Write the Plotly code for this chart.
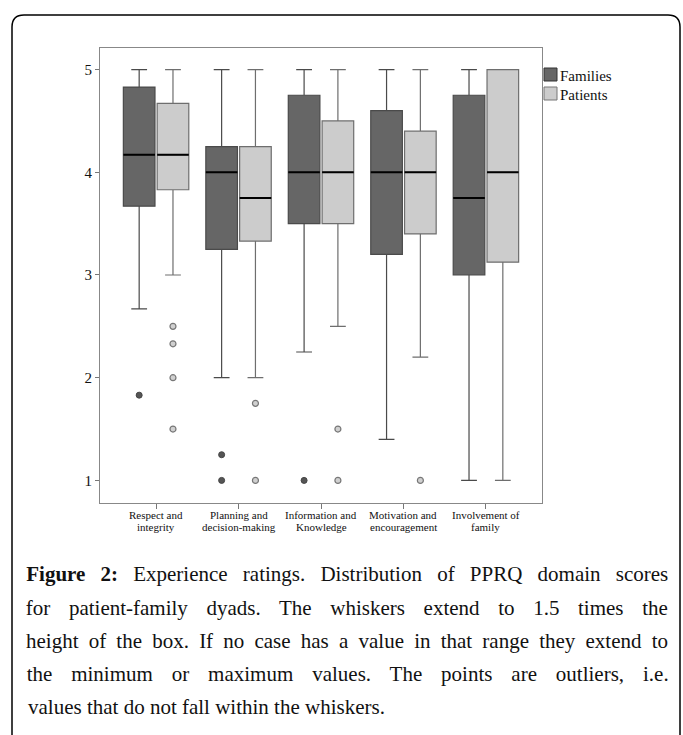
import json
import re
import plotly.graph_objects as go

# ---------------- data ----------------
cat_line1 = ["Respect and", "Planning and", "Information and", "Motivation and", "Involvement of"]
cat_line2 = ["integrity", "decision-making", "Knowledge", "encouragement", "family"]
cat_pos = [0, 1, 2, 3, 4]

fam_low = [2.67, 2.0, 2.25, 1.4, 1.0]
fam_q1 = [3.67, 3.25, 3.5, 3.2, 3.0]
fam_median = [4.17, 4.0, 4.0, 4.0, 3.75]
fam_q3 = [4.83, 4.25, 4.75, 4.6, 4.75]
fam_high = [5.0, 5.0, 5.0, 5.0, 5.0]

pat_low = [3.0, 2.0, 2.5, 2.2, 1.0]
pat_q1 = [3.83, 3.33, 3.5, 3.4, 3.125]
pat_median = [4.17, 3.75, 4.0, 4.0, 4.0]
pat_q3 = [4.67, 4.25, 4.5, 4.4, 5.0]
pat_high = [5.0, 5.0, 5.0, 5.0, 5.0]

fam_out_cat = [0, 1, 1, 2]
fam_out_val = [1.83, 1.25, 1.0, 1.0]
pat_out_cat = [0, 0, 0, 0, 1, 1, 2, 2, 3]
pat_out_val = [2.5, 2.33, 2.0, 1.5, 1.75, 1.0, 1.5, 1.0, 1.0]

y_ticks = [1, 2, 3, 4, 5]
series_names = ["Families", "Patients"]

caption_lines = [
    "<b>Figure 2:</b> Experience ratings. Distribution of PPRQ domain scores",
    "for patient-family dyads. The whiskers extend to 1.5 times the",
    "height of the box. If no case has a value in that range they extend to",
    "the minimum or maximum values. The points are outliers, i.e.",
    "values that do not fall within the whiskers.",
]

# ---------------- style ----------------
FONT = "Liberation Serif"
W, H = 683, 735
PL, PR, PT, PB = 100, 542, 48, 503
BOXGAP = 0.18
BOXGROUPGAP = 0.065
OFFSET = (1 - BOXGAP) / 4
FAM_FILL, PAT_FILL = "#666666", "#cccccc"
FAM_LINE, PAT_LINE = "#4a4a4a", "#6e6e6e"
CAP_LEFT, CAP_RIGHT = 26, 668


def px_x(px):
    return (px - PL) / (PR - PL)


def px_y(py):
    return (PB - py) / (PB - PT)


fig = go.Figure()

fig.add_trace(go.Box(
    name=series_names[0], x=cat_pos, q1=fam_q1, median=fam_median, q3=fam_q3,
    lowerfence=fam_low, upperfence=fam_high, offsetgroup="F",
    fillcolor=FAM_FILL, line=dict(color=FAM_LINE, width=1.2),
    whiskerwidth=0.5, boxpoints=False, showlegend=False))
fig.add_trace(go.Box(
    name=series_names[1], x=cat_pos, q1=pat_q1, median=pat_median, q3=pat_q3,
    lowerfence=pat_low, upperfence=pat_high, offsetgroup="P",
    fillcolor=PAT_FILL, line=dict(color=PAT_LINE, width=1.2),
    whiskerwidth=0.5, boxpoints=False, showlegend=False))
# black median lines
for med, grp in [(fam_median, "F"), (pat_median, "P")]:
    fig.add_trace(go.Box(
        x=cat_pos, q1=med, median=med, q3=med, lowerfence=med, upperfence=med,
        offsetgroup=grp, fillcolor="rgba(0,0,0,0)", line=dict(color="#000000", width=2),
        whiskerwidth=0, boxpoints=False, showlegend=False, hoverinfo="skip"))

# outliers
fig.add_trace(go.Scatter(
    x=[c - OFFSET for c in fam_out_cat], y=fam_out_val, mode="markers",
    marker=dict(size=6, color="#555555", line=dict(color="#444444", width=1)),
    showlegend=False))
fig.add_trace(go.Scatter(
    x=[c + OFFSET for c in pat_out_cat], y=pat_out_val, mode="markers",
    marker=dict(size=6, color="#d0d0d0", line=dict(color="#777777", width=1.2)),
    showlegend=False))

shapes = []
annotations = []

# category labels (two tight lines)
for i, (l1, l2) in enumerate(zip(cat_line1, cat_line2)):
    annotations.append(dict(x=cat_pos[i], xref="x", y=px_y(515), yref="paper", text=l1,
                            showarrow=False, xanchor="center", yanchor="middle",
                            font=dict(family=FONT, size=11, color="#111")))
    annotations.append(dict(x=cat_pos[i], xref="x", y=px_y(527), yref="paper", text=l2,
                            showarrow=False, xanchor="center", yanchor="middle",
                            font=dict(family=FONT, size=11, color="#111")))

# custom legend
leg = [(series_names[0], FAM_FILL, "#333333", 68, 75.5), (series_names[1], PAT_FILL, "#777777", 87, 95)]
for name, fill, lc, top, ty in leg:
    shapes.append(dict(type="rect", xref="paper", yref="paper",
                       x0=px_x(544), x1=px_x(557), y0=px_y(top), y1=px_y(top + 13),
                       fillcolor=fill, line=dict(color=lc, width=1)))
    annotations.append(dict(x=px_x(558), xref="paper", y=px_y(ty), yref="paper", text=name,
                            showarrow=False, xanchor="left", yanchor="middle",
                            font=dict(family=FONT, size=15, color="#111")))

# caption (first lines justified via word spacing, last line left aligned)
cap_y = [574, 608, 641, 674, 707]
for k, (line, cy) in enumerate(zip(caption_lines, cap_y)):
    last = k == len(caption_lines) - 1
    annotations.append(dict(
        x=px_x(CAP_LEFT) if last else px_x((CAP_LEFT + CAP_RIGHT) / 2),
        xref="paper", y=px_y(cy), yref="paper", text=line,
        showarrow=False, xanchor="left" if last else "center", yanchor="middle",
        font=dict(family=FONT, size=21, color="#111")))

# outer rounded frame
x0, x1 = px_x(12), px_x(680)
yt, yb = px_y(15), px_y(745)
rx, ry = 12 / (PR - PL), 12 / (PB - PT)
path = (f"M {x0},{yb} L {x0},{yt - ry} Q {x0},{yt} {x0 + rx},{yt} "
        f"L {x1 - rx},{yt} Q {x1},{yt} {x1},{yt - ry} L {x1},{yb}")
shapes.append(dict(type="path", xref="paper", yref="paper", path=path,
                   line=dict(color="#000000", width=1.5)))

fig.update_layout(
    width=W, height=H,
    margin=dict(l=PL, r=W - PR, t=PT, b=H - PB, pad=0),
    paper_bgcolor="white", plot_bgcolor="white",
    boxmode="group", boxgap=BOXGAP, boxgroupgap=BOXGROUPGAP,
    shapes=shapes, annotations=annotations,
    font=dict(family=FONT, color="#111"),
)
fig.update_xaxes(range=[-0.68, 4.68], tickvals=cat_pos, ticktext=[""] * len(cat_pos),
                 ticks="outside", ticklen=5, tickcolor="#777777",
                 showline=True, linecolor="#888888", linewidth=1, mirror=True,
                 showgrid=False, zeroline=False)
fig.update_yaxes(range=[0.78, 5.21], tickvals=y_ticks, ticktext=[str(v) for v in y_ticks],
                 ticks="outside", ticklen=4, tickcolor="#777777",
                 tickfont=dict(family=FONT, size=15, color="#111"),
                 showline=True, linecolor="#888888", linewidth=1, mirror=True,
                 showgrid=False, zeroline=False)

justified = [re.sub(r"<[^>]+>", "", s) for s in caption_lines[:-1]]
post = (
    "document.body.style.margin='0px';"
    "var gd=document.getElementById('{plot_id}');"
    "var J=" + json.dumps(justified) + ";"
    "var TW=" + str(CAP_RIGHT - CAP_LEFT) + ";"
    "gd.querySelectorAll('text.annotation-text').forEach(function(t){"
    " var s=t.textContent.replace(/\\u00a0/g,' ');"
    " if(J.indexOf(s)>=0){"
    "  var w=t.getComputedTextLength();"
    "  var n=(s.match(/ /g)||[]).length;"
    "  if(n>0&&w<TW){t.style.wordSpacing=((TW-w)/n)+'px';}"
    " }"
    "});"
)

fig.write_html("out.html", post_script=post, config={"displayModeBar": False})
